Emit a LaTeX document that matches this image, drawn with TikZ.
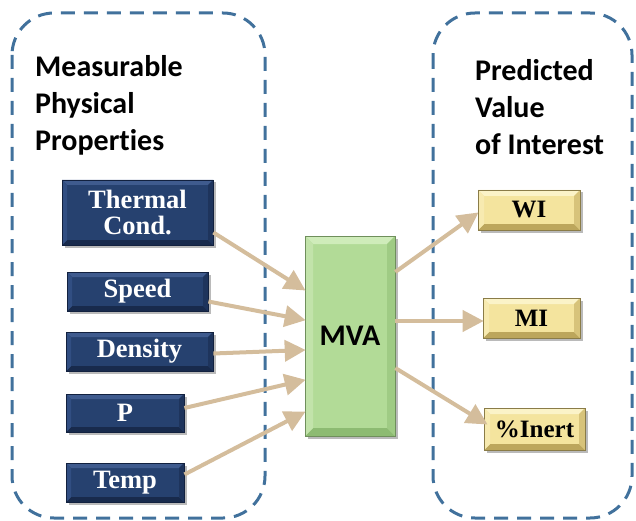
\documentclass[tikz,border=0pt]{standalone}
\usepackage{fontspec}
\setmainfont{Liberation Serif}
\newfontfamily\calibri[Ligatures={NoCommon}]{Carlito}
\usetikzlibrary{arrows.meta,shadows,calc}
\definecolor{dashblue}{HTML}{41719C}
\definecolor{arrowtan}{HTML}{D4BD9C}
\definecolor{navyface}{HTML}{26416F}
\definecolor{navytop}{HTML}{3F5B8E}
\definecolor{navyleft}{HTML}{314E82}
\definecolor{navybot}{HTML}{182A4C}
\definecolor{navyright}{HTML}{1E345C}
\definecolor{navyedge}{HTML}{12213F}
\definecolor{yelface}{HTML}{F4E49E}
\definecolor{yeltop}{HTML}{FBF3C8}
\definecolor{yelleft}{HTML}{F7EAB0}
\definecolor{yelbot}{HTML}{BCA65C}
\definecolor{yelright}{HTML}{D7C37A}
\definecolor{yeledge}{HTML}{8A7C48}
\definecolor{grnface}{HTML}{B2DB97}
\definecolor{grntop}{HTML}{CFECBA}
\definecolor{grnleft}{HTML}{C2E3AA}
\definecolor{grnbot}{HTML}{8DBB72}
\definecolor{grnright}{HTML}{9FCB84}
\definecolor{grnedge}{HTML}{6F8F5C}
\newcommand\bevelfill[5]{%
  \fill[#2] (path picture bounding box.north west) -- (path picture bounding box.north east)
    -- ([shift={(-#1,-#1)}]path picture bounding box.north east) -- ([shift={(#1,-#1)}]path picture bounding box.north west) -- cycle;
  \fill[#4] (path picture bounding box.south east) -- (path picture bounding box.south west)
    -- ([shift={(#1,#1)}]path picture bounding box.south west) -- ([shift={(-#1,#1)}]path picture bounding box.south east) -- cycle;
  \fill[#3] (path picture bounding box.south west) -- (path picture bounding box.north west)
    -- ([shift={(#1,-#1)}]path picture bounding box.north west) -- ([shift={(#1,#1)}]path picture bounding box.south west) -- cycle;
  \fill[#5] (path picture bounding box.north east) -- (path picture bounding box.south east)
    -- ([shift={(-#1,#1)}]path picture bounding box.south east) -- ([shift={(-#1,-#1)}]path picture bounding box.north east) -- cycle;
}
\tikzset{
  x=1pt, y=-1pt,
  region/.style={draw=dashblue, line width=3pt, dash pattern=on 14pt off 9pt, rounded corners=42pt},
  heading/.style={anchor=north west, inner sep=0pt, align=left, font=\calibri\bfseries\fontsize{30}{37}\selectfont},
  shade/.style={drop shadow={shadow xshift=2.5pt, shadow yshift=-2.5pt, opacity=0.45, fill=black!60}},
  navybox/.style={draw=navyedge, line width=0.8pt, fill=navyface, text=white, inner sep=0pt, align=center,
    font=\bfseries\fontsize{26.5}{26}\selectfont, shade,
    path picture={\bevelfill{5pt}{navytop}{navyleft}{navybot}{navyright}}},
  yelbox/.style={draw=yeledge, line width=0.6pt, fill=yelface, text=black, inner sep=0pt, align=center,
    font=\bfseries\fontsize{25}{26}\selectfont, shade,
    path picture={\bevelfill{6pt}{yeltop}{yelleft}{yelbot}{yelright}}},
  grnbox/.style={draw=grnedge, line width=0.6pt, fill=grnface, text=black, inner sep=0pt,
    font=\calibri\bfseries\fontsize{30}{34}\selectfont, shade,
    path picture={\bevelfill{8pt}{grntop}{grnleft}{grnbot}{grnright}}},
  flow/.style={draw=arrowtan, line width=4pt, -{Triangle[length=21pt,width=21pt]}, shorten >=-1pt}
}
\begin{document}
\begin{tikzpicture}
\useasboundingbox (0,0) rectangle (636,521);
\draw[region] (12,13) rectangle (265,518);
\draw[region] (433,13) rectangle (632,518);
\node[heading] (hleft) at (35,55) {Measurable\\Physical\\Properties};
\node[heading] (hright) at (475,59) {Predicted\\Value\\of Interest};

\node[navybox, minimum width=151pt, minimum height=65pt] (therm) at (137.5,212.5) {Thermal\\Cond.};
\node[navybox, minimum width=141pt, minimum height=39pt] (speed) at (137.5,291.5) {Speed};
\node[navybox, minimum width=147pt, minimum height=39pt] (dens) at (139.5,351.5) {Density};
\node[navybox, minimum width=118pt, minimum height=38pt] (p) at (125,413) {P};
\node[navybox, minimum width=118pt, minimum height=39pt] (temp) at (125,482.5) {Temp};

\node[grnbox, minimum width=90pt, minimum height=200pt] (mva) at (350,336) {MVA};

\node[yelbox, minimum width=102pt, minimum height=40pt] (wi) at (529,210) {WI};
\node[yelbox, minimum width=97pt, minimum height=40pt] (mi) at (531.5,318) {MI};
\node[yelbox, minimum width=101pt, minimum height=42pt] (inert) at (534.5,429) {\%Inert};

\draw[flow] ([yshift=-20pt]therm.east) -- ([yshift=46pt]mva.west);
\draw[flow] ([yshift=-10pt]speed.east) -- ([yshift=16pt]mva.west);
\draw[flow] ([yshift=-2pt]dens.east) -- ([yshift=-14pt]mva.west);
\draw[flow] ([yshift=5pt]p.east) -- ([yshift=-44pt]mva.west);
\draw[flow] ([yshift=8pt]temp.east) -- ([yshift=-76pt]mva.west);

\draw[flow] ([yshift=64pt]mva.east) -- ([yshift=-3pt]wi.west);
\draw[flow] ([yshift=15pt]mva.east) -- ([yshift=-3pt]mi.west);
\draw[flow] ([yshift=-32pt]mva.east) -- ([xshift=3pt,yshift=5pt]inert.west);
\end{tikzpicture}
\end{document}
